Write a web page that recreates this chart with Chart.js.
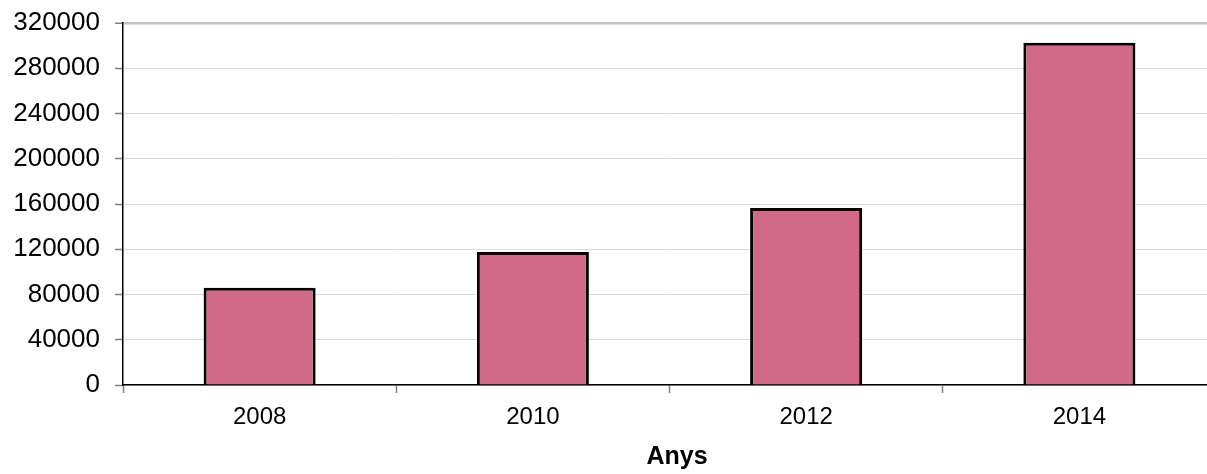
<!DOCTYPE html>
<html>
<head>
<meta charset="utf-8">
<script src="https://cdn.jsdelivr.net/npm/chart.js@4/dist/chart.umd.min.js"></script>
<style>
  html, body { margin: 0; padding: 0; background: #ffffff; overflow: hidden; }
  #wrap { width: 1354px; height: 474px; }
</style>
</head>
<body>
<div id="wrap"><canvas id="c" width="1354" height="474"></canvas></div>
<script>
const years = ['2008', '2010', '2012', '2014'];
const values = [86000, 117500, 156500, 302500];
const yTicks = [0, 40000, 80000, 120000, 160000, 200000, 240000, 280000, 320000];
const axisTitle = 'Anys';

const FONT = "'Liberation Sans', Arial, Helvetica, sans-serif";

const titleShift = {
  id: 'titleShift',
  afterLayout(chart) {
    const t = chart.titleBlock;
    if (t) { t.left = 138; t.right = chart.chartArea.right; t.width = t.right - t.left; }
  }
};

new Chart(document.getElementById('c'), {
  type: 'bar',
  data: {
    labels: years,
    datasets: [{
      data: values,
      backgroundColor: '#d16a88',
      borderColor: '#000000',
      borderWidth: 3,
      barPercentage: 0.41,
      categoryPercentage: 1.0
    }]
  },
  plugins: [titleShift],
  options: {
    responsive: false,
    animation: false,
    layout: { padding: { top: 23, right: 138, left: 0, bottom: 0 } },
    plugins: {
      legend: { display: false },
      tooltip: { enabled: false },
      title: {
        display: true,
        text: axisTitle,
        position: 'bottom',
        color: '#000000',
        font: { family: FONT, size: 25, weight: 'bold' },
        padding: { top: 0, bottom: 2 }
      }
    },
    scales: {
      x: {
        offset: true,
        grid: {
          display: true,
          offset: true,
          drawOnChartArea: false,
          drawTicks: true,
          tickLength: 8,
          tickColor: '#808080',
          tickWidth: 1.5
        },
        border: { display: true, color: '#000000', width: 1.5 },
        ticks: {
          color: '#000000',
          font: { family: FONT, size: 24 },
          padding: 10,
          maxRotation: 0
        },
        afterFit: (s) => { s.height = 57; s.paddingLeft = 0; s.paddingRight = 0; }
      },
      y: {
        min: yTicks[0],
        max: yTicks[yTicks.length - 1],
        afterBuildTicks: (s) => { s.ticks = yTicks.map(v => ({ value: v })); },
        grid: {
          color: (ctx) => (ctx.tick && ctx.tick.value === 320000) ? '#c4c4c4' : '#d9d9d9',
          lineWidth: (ctx) => (ctx.tick && ctx.tick.value === 320000) ? 2.5 : 1,
          drawTicks: true,
          tickLength: 8,
          tickColor: '#808080',
          tickWidth: 1.5
        },
        border: { display: true, color: '#000000', width: 1.5 },
        ticks: {
          color: '#000000',
          font: { family: FONT, size: 26 },
          padding: 15,
          callback: (v) => String(v)
        },
        afterFit: (s) => { s.width = 123; s.paddingTop = 0; s.paddingBottom = 0; }
      }
    }
  }
});
</script>
</body>
</html>
